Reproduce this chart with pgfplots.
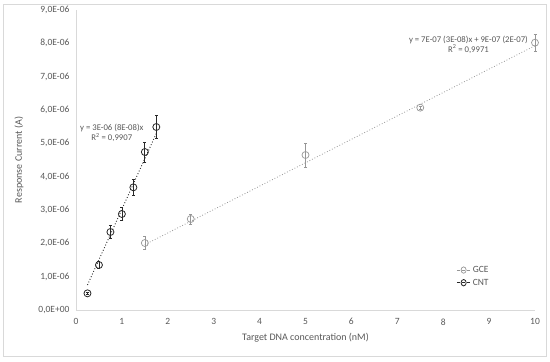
\documentclass[border=0pt]{standalone}
\usepackage{pgfplots}
\pgfplotsset{compat=1.18}
\usepackage{fontspec}
\setmainfont{Carlito}
\definecolor{txt}{RGB}{89,89,89}
\definecolor{gce}{RGB}{150,150,150}
\definecolor{cnt}{RGB}{40,40,40}
\definecolor{axl}{RGB}{217,217,217}
\begin{document}
\begin{tikzpicture}
\path[fill=white] (0,0) rectangle (550pt,362pt);
\draw[axl] (3pt,6pt) rectangle (546pt,358pt);
\begin{axis}[
  at={(76pt,52pt)}, anchor=origin,
  scale only axis, width=459pt, height=300pt,
  xmin=0, xmax=10, ymin=0, ymax=9,
  axis x line=bottom, axis y line=left,
  axis line style={axl, line width=0.8pt, -},
  xtick={0,1,...,10}, ytick={0,1,...,9},
  yticklabels={0{,}0E+00,1{,}0E-06,2{,}0E-06,3{,}0E-06,4{,}0E-06,5{,}0E-06,6{,}0E-06,7{,}0E-06,8{,}0E-06,9{,}0E-06},
  major tick length=0pt,
  tick label style={font=\fontsize{9.5}{11}\selectfont, text=txt},
  /pgf/number format/assume math mode=true,
  xticklabel style={yshift=-5pt},
  yticklabel style={xshift=-3pt},
  xlabel={Target DNA concentration (nM)},
  ylabel={Response Current (A)},
  label style={font=\fontsize{10}{12}\selectfont, text=txt},
  xlabel style={yshift=-1pt},
  ylabel style={yshift=8pt},
  clip=false,
  legend style={at={(rel axis cs:0.822,0.16)}, anchor=north west, draw=none, fill=none,
    font=\fontsize{9.5}{11}\selectfont, text=txt, row sep=1pt,
    /tikz/every even column/.append style={column sep=2pt}},
  legend cell align=left,
  legend image post style={xscale=0.8},
]
% GCE
\addplot[gce, only marks, mark=o, mark size=3.5pt, mark options={line width=0.7pt}, forget plot,
  error bars/.cd, y dir=both, y explicit,
  error bar style={gce, line width=0.6pt}, error mark options={gce, rotate=90, mark size=1.5pt}]
  coordinates {
  (1.5,2.01) +- (0,0.20)
  (2.5,2.73) +- (0,0.15)
  (5,4.65) +- (0,0.36)
  (7.5,6.07) +- (0,0.05)
  (10,8.02) +- (0,0.25)
  };
% CNT
\addplot[cnt, only marks, mark=o, mark size=3.5pt, mark options={line width=0.8pt}, forget plot,
  error bars/.cd, y dir=both, y explicit,
  error bar style={cnt, line width=0.7pt}, error mark options={cnt, rotate=90, mark size=1.5pt}]
  coordinates {
  (0.25,0.50) +- (0,0.03)
  (0.5,1.35) +- (0,0.10)
  (0.75,2.34) +- (0,0.20)
  (1.0,2.88) +- (0,0.20)
  (1.25,3.68) +- (0,0.25)
  (1.5,4.74) +- (0,0.30)
  (1.75,5.49) +- (0,0.35)
  };
\addlegendimage{gce, densely dashed, line width=0.6pt, mark=o, mark size=3.2pt, mark options={solid, line width=0.7pt}}
\addlegendentry{GCE}
\addlegendimage{cnt, densely dashed, line width=0.6pt, mark=o, mark size=3.2pt, mark options={solid, line width=0.8pt}}
\addlegendentry{CNT}
% trendlines
\addplot[gce, dotted, line width=0.8pt, forget plot] coordinates {(1.5,1.96) (10,7.93)};
\addplot[cnt, dotted, line width=0.9pt, forget plot] coordinates {(0.25,0.75) (1.75,5.30)};
\node[font=\fontsize{8.7}{10}\selectfont, text=txt, align=center] at (axis cs:8.55,7.95)
  {y = 7E-07 (3E-08)x + 9E-07 (2E-07)\\R\textsuperscript{2} = 0,9971};
\node[font=\fontsize{8.7}{10}\selectfont, text=txt, align=center] at (axis cs:0.78,5.3)
  {y = 3E-06 (8E-08)x\\R\textsuperscript{2} = 0,9907};
\end{axis}
\end{tikzpicture}
\end{document}
